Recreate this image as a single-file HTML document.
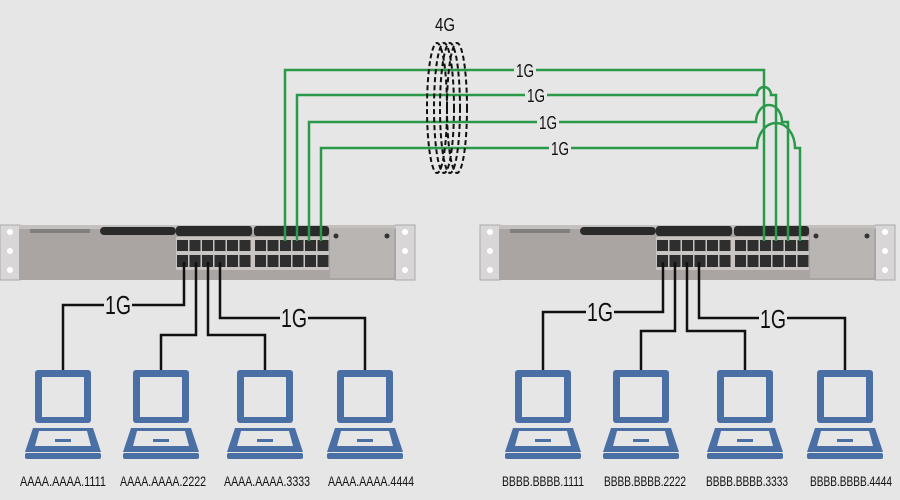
<!DOCTYPE html>
<html><head><meta charset="utf-8"><style>
html,body{margin:0;padding:0;background:#e6e6e6;width:900px;height:500px;overflow:hidden}
svg text{font-family:"Liberation Sans",sans-serif}
</style></head><body>
<svg width="900" height="500" viewBox="0 0 900 500" xmlns="http://www.w3.org/2000/svg">
<defs>
<g id="sw">
  <rect x="0" y="225" width="20" height="55" fill="#d8d6d6" stroke="#aaa"/>
  <rect x="395" y="225" width="20" height="55" fill="#d8d6d6" stroke="#aaa"/>
  <circle cx="10" cy="232" r="3" fill="#fff"/><circle cx="10" cy="251" r="3" fill="#fff"/><circle cx="10" cy="270" r="3" fill="#fff"/>
  <circle cx="405" cy="232" r="3" fill="#fff"/><circle cx="405" cy="251" r="3" fill="#fff"/><circle cx="405" cy="270" r="3" fill="#fff"/>
  <rect x="19" y="225" width="377" height="55" fill="#aaa5a2"/>
  <rect x="19" y="225" width="377" height="4" fill="#c4c0be"/>
  <rect x="330" y="228" width="64" height="50" fill="#b9b5b3"/>
  <circle cx="336" cy="236" r="2.5" fill="#333"/><circle cx="387" cy="236" r="2.5" fill="#333"/>
  <rect x="100" y="227" width="76" height="8" rx="4" fill="#2a2a2a"/>
  <rect x="30" y="229" width="60" height="4" fill="#666" opacity=".6"/>
  <rect x="176" y="226" width="76" height="10" rx="3" fill="#2a2a2a"/>
  <rect x="254" y="226" width="75" height="10" rx="3" fill="#2a2a2a"/>
  <rect x="176" y="237" width="153" height="33" fill="#c8c4c2"/>
  <g fill="#2e2e2e">
    <rect x="177" y="240" width="11" height="11"/><rect x="189.5" y="240" width="11" height="11"/><rect x="202" y="240" width="11" height="11"/><rect x="214.5" y="240" width="11" height="11"/><rect x="227" y="240" width="11" height="11"/><rect x="239.5" y="240" width="11" height="11"/>
    <rect x="255" y="240" width="11" height="11"/><rect x="267.5" y="240" width="11" height="11"/><rect x="280" y="240" width="11" height="11"/><rect x="292.5" y="240" width="11" height="11"/><rect x="305" y="240" width="11" height="11"/><rect x="317.5" y="240" width="11" height="11"/>
    <rect x="177" y="255" width="11" height="12"/><rect x="189.5" y="255" width="11" height="12"/><rect x="202" y="255" width="11" height="12"/><rect x="214.5" y="255" width="11" height="12"/><rect x="227" y="255" width="11" height="12"/><rect x="239.5" y="255" width="11" height="12"/>
    <rect x="255" y="255" width="11" height="12"/><rect x="267.5" y="255" width="11" height="12"/><rect x="280" y="255" width="11" height="12"/><rect x="292.5" y="255" width="11" height="12"/><rect x="305" y="255" width="11" height="12"/><rect x="317.5" y="255" width="11" height="12"/>
  </g>
</g>
<g id="lap" fill="#4a6fa5">
  <rect x="-28" y="370" width="56" height="53" rx="3"/>
  <rect x="-21" y="377" width="42" height="40" fill="#e6e6e6"/>
  <path d="M-30 428 H30 L38 452 H-38 Z"/>
  <path d="M-24 431 H24 L28 446 H-28 Z" fill="#e6e6e6"/>
  <rect x="-8" y="439" width="16" height="3" fill="#4a6fa5"/>
  <rect x="-38" y="453" width="76" height="6" rx="2"/>
</g>
</defs>
<use href="#sw"/>
<use href="#sw" x="480"/>

<g fill="none" stroke="#2a9a4a" stroke-width="2.5">
  <path d="M285 241 V70 H764 V241"/>
  <path d="M297 241 V95 H757 A7 8 0 0 1 771 95 H776 V241"/>
  <path d="M309 241 V122 H756 A13 17 0 0 1 782 122 H788 V241"/>
  <path d="M321 241 V148 H757 A19 25 0 0 1 795 148 H800 V241"/>
</g>
<g fill="none" stroke="#111" stroke-width="2" stroke-dasharray="5,3">
  <ellipse cx="437" cy="108" rx="10" ry="65"/>
  <ellipse cx="444" cy="108" rx="10" ry="65"/>
  <ellipse cx="450" cy="108" rx="10" ry="65"/>
  <ellipse cx="457" cy="108" rx="10" ry="65"/>
</g>
<g font-size="18" fill="#111" text-anchor="middle">
  <text x="445" y="31" textLength="20" lengthAdjust="spacingAndGlyphs">4G</text>
  <rect x="514" y="60" width="22" height="18" fill="#e6e6e6"/><text x="525" y="77" textLength="18" lengthAdjust="spacingAndGlyphs">1G</text>
  <rect x="525" y="85" width="22" height="18" fill="#e6e6e6"/><text x="536" y="102" textLength="18" lengthAdjust="spacingAndGlyphs">1G</text>
  <rect x="537" y="112" width="22" height="18" fill="#e6e6e6"/><text x="548" y="129" textLength="18" lengthAdjust="spacingAndGlyphs">1G</text>
  <rect x="549" y="138" width="22" height="18" fill="#e6e6e6"/><text x="560" y="155" textLength="18" lengthAdjust="spacingAndGlyphs">1G</text>
</g>

<g fill="none" stroke="#111" stroke-width="2.5">
  <path d="M184 262 V305 H63 V371"/>
  <path d="M196 262 V335 H161 V371"/>
  <path d="M208 262 V335 H265 V371"/>
  <path d="M220 262 V318 H365 V371"/>
  <path d="M663 262 V312 H543 V371"/>
  <path d="M675 262 V331 H641 V371"/>
  <path d="M687 262 V331 H745 V371"/>
  <path d="M699 262 V318 H845 V371"/>
</g>
<g font-size="26" fill="#111" text-anchor="middle">
  <rect x="104" y="292" width="28" height="26" fill="#e6e6e6"/><text x="118" y="314" textLength="26" lengthAdjust="spacingAndGlyphs">1G</text>
  <rect x="280" y="305" width="28" height="26" fill="#e6e6e6"/><text x="294" y="327" textLength="26" lengthAdjust="spacingAndGlyphs">1G</text>
  <rect x="586" y="299" width="28" height="26" fill="#e6e6e6"/><text x="600" y="321" textLength="26" lengthAdjust="spacingAndGlyphs">1G</text>
  <rect x="759" y="305" width="28" height="26" fill="#e6e6e6"/><text x="773" y="328" textLength="26" lengthAdjust="spacingAndGlyphs">1G</text>
</g>
<use href="#lap" x="63"/><use href="#lap" x="161"/><use href="#lap" x="265"/><use href="#lap" x="365"/>
<use href="#lap" x="543"/><use href="#lap" x="641"/><use href="#lap" x="745"/><use href="#lap" x="845"/>
<g font-size="14" fill="#111" text-anchor="middle" lengthAdjust="spacingAndGlyphs">
  <text x="63" y="486" textLength="86" lengthAdjust="spacingAndGlyphs">AAAA.AAAA.1111</text><text x="163" y="486" textLength="86" lengthAdjust="spacingAndGlyphs">AAAA.AAAA.2222</text>
  <text x="267" y="486" textLength="86" lengthAdjust="spacingAndGlyphs">AAAA.AAAA.3333</text><text x="371" y="486" textLength="86" lengthAdjust="spacingAndGlyphs">AAAA.AAAA.4444</text>
  <text x="543" y="486" textLength="82" lengthAdjust="spacingAndGlyphs">BBBB.BBBB.1111</text><text x="645" y="486" textLength="82" lengthAdjust="spacingAndGlyphs">BBBB.BBBB.2222</text>
  <text x="747" y="486" textLength="82" lengthAdjust="spacingAndGlyphs">BBBB.BBBB.3333</text><text x="851" y="486" textLength="82" lengthAdjust="spacingAndGlyphs">BBBB.BBBB.4444</text>
</g>
</svg>
</body></html>
